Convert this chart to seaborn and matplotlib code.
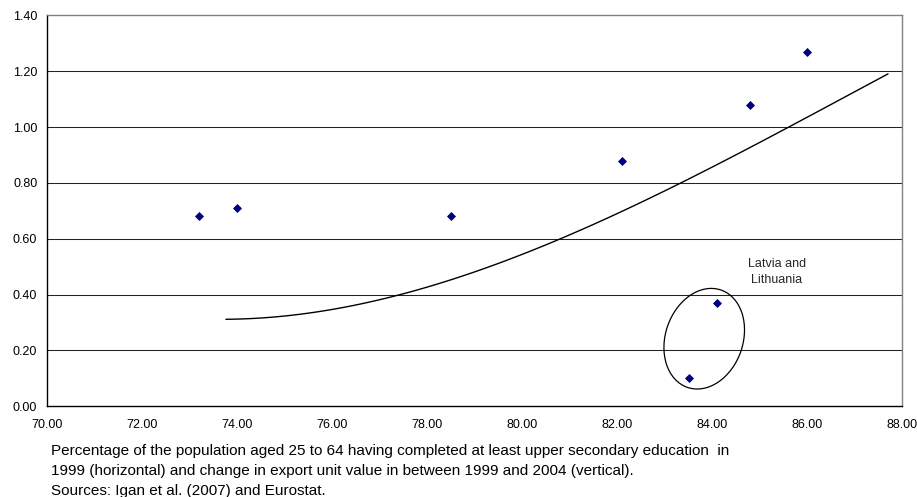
import numpy as np
import pandas as pd
import matplotlib
matplotlib.use("Agg")
import matplotlib.pyplot as plt
import matplotlib.transforms as mtransforms
from matplotlib.patches import Ellipse
import seaborn as sns

# ---- data ----
education = [73.2, 74.0, 78.5, 82.1, 84.8, 86.0, 84.1, 83.5]
export_change = [0.68, 0.71, 0.68, 0.88, 1.08, 1.27, 0.37, 0.10]

# points
trend_x = [73.76, 75.32, 76.37, 77.36, 78.48, 80.30, 80.82, 82.16, 83.42, 84.61, 85.70, 86.79, 87.70]
trend_y = [0.311, 0.331, 0.357, 0.398, 0.452, 0.566, 0.600, 0.702, 0.800, 0.924, 1.000, 1.109, 1.190]

x_ticks = [70, 72, 74, 76, 78, 80, 82, 84, 86, 88]
y_ticks = [0.0, 0.2, 0.4, 0.6, 0.8, 1.0, 1.2, 1.4]

annotation_lines = ["Latvia and", "Lithuania"]
caption_lines = [
    "Percentage of the population aged 25 to 64 having completed at least upper secondary education  in",
    "1999 (horizontal) and change in export unit value in between 1999 and 2004 (vertical).",
    "Sources: Igan et al. (2007) and Eurostat.",
]

df = pd.DataFrame({"education": education, "export": export_change})
trend = pd.DataFrame({"x": trend_x, "y": trend_y})

sns.set_style("white")
plt.rcParams["font.family"] = ["Liberation Sans", "DejaVu Sans"]

W, H = 917, 497
fig = plt.figure(figsize=(W / 100, H / 100), dpi=100)
ax = fig.add_axes([47.3 / W, 1 - 406.3 / H, (902.3 - 47.3) / W, (406.3 - 15.3) / H])

# gridlines
for yv in y_ticks[1:-1]:
    ax.axhline(yv, color="#222222", lw=0.75, zorder=0)

# smooth trend curve (polynomial trendline through the read curve points)
sns.regplot(data=trend, x="x", y="y", order=3, ci=None, scatter=False,
            truncate=True, line_kws={"color": "black", "lw": 1.0, "zorder": 2}, ax=ax)
sns.scatterplot(data=df, x="education", y="export", marker="D", color="#000080",
                s=16, edgecolor="#000080", linewidth=0.6, ax=ax, zorder=3)

ax.set_xlim(70, 88)
ax.set_ylim(0, 1.4)
ax.set_xticks(x_ticks)
ax.set_yticks(y_ticks)
ax.set_xticklabels([f"{v:.2f}" for v in x_ticks])
ax.set_yticklabels([f"{v:.2f}" for v in y_ticks])
ax.set_xlabel("")
ax.set_ylabel("")
ax.tick_params(axis="both", which="both", direction="out", length=3.2, width=0.8,
               color="black", labelsize=9, labelcolor="black")
ax.tick_params(axis="x", pad=6)
ax.tick_params(axis="y", pad=4)

for side in ["left", "bottom"]:
    ax.spines[side].set_color("black")
    ax.spines[side].set_linewidth(1.0)
for side in ["top", "right"]:
    ax.spines[side].set_color("#808080")
    ax.spines[side].set_linewidth(1.0)

# ellipse around Latvia and Lithuania (fixed pixel size at a data point)
offset = mtransforms.ScaledTranslation(83.83, 0.242, ax.transData)
ell = Ellipse((0, 0), width=0.775, height=1.03, angle=-19,
              transform=fig.dpi_scale_trans + offset,
              fill=False, edgecolor="black", lw=0.9, zorder=4)
ax.add_patch(ell)

ax.text(85.36, 0.5106, annotation_lines[0], ha="center", va="center", fontsize=9)
ax.text(85.36, 0.4533, annotation_lines[1], ha="center", va="center", fontsize=9)

for i, line in enumerate(caption_lines):
    fig.text(50.7 / W, 1 - (455.5 + 20 * i) / H, line, ha="left", va="baseline",
             fontsize=11, color="black")

fig.savefig("out.png", dpi=100)
